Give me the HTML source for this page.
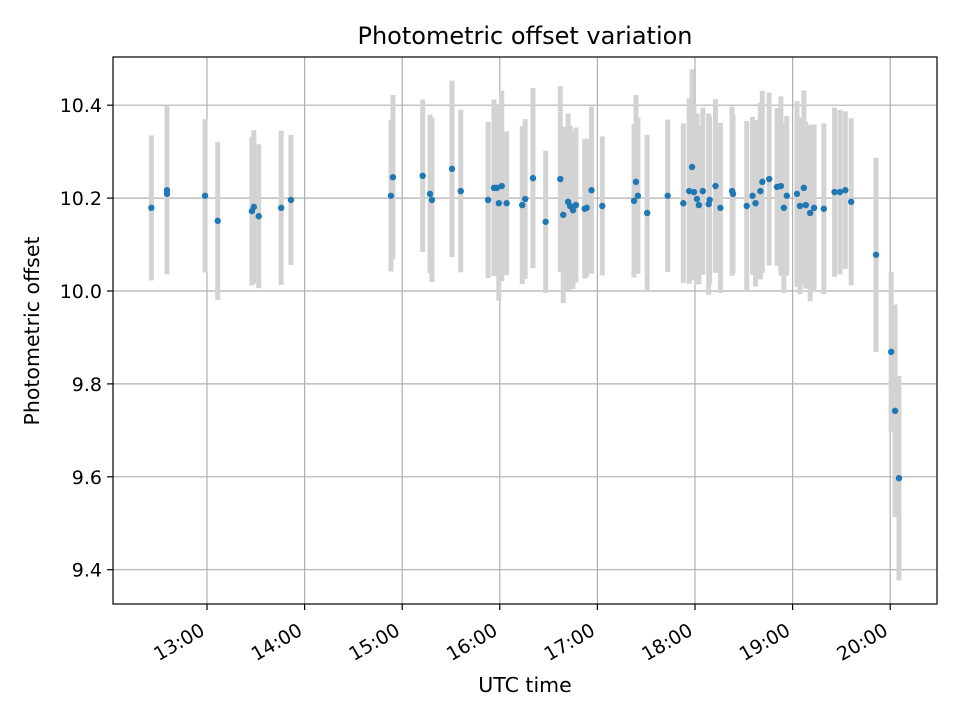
<!DOCTYPE html>
<html><head><meta charset="utf-8"><style>body{margin:0;background:#fff}svg{display:block;font-family:"DejaVu Sans","Liberation Sans",sans-serif}</style></head>
<body>
<svg id="chart" width="960" height="720" viewBox="0 0 960 720" xmlns="http://www.w3.org/2000/svg">
<rect width="960" height="720" fill="#fff"/>
<text x="525" y="44" font-size="24" text-anchor="middle">Photometric offset variation</text>
<g id="grid"></g><g id="bars"></g><g id="dots"></g><g id="axes"></g>
<rect x="113" y="57" width="824" height="547" fill="none" stroke="#000" stroke-width="1.2"/>
<text x="525" y="692" font-size="20.5" text-anchor="middle">UTC time</text>
<text transform="translate(39,331) rotate(-90)" font-size="20.5" text-anchor="middle">Photometric offset</text>
</svg>
<script>
const times=[12.43,12.59,12.59,12.98,13.11,13.46,13.48,13.53,13.76,13.86,14.885,14.905,15.21,15.285,15.305,15.51,15.60,15.88,15.94,15.97,15.99,16.02,16.07,16.23,16.26,16.34,16.47,16.62,16.65,16.70,16.72,16.75,16.78,16.87,16.89,16.94,17.05,17.375,17.395,17.415,17.51,17.72,17.88,17.94,17.97,17.99,18.02,18.04,18.08,18.14,18.15,18.21,18.26,18.38,18.39,18.53,18.59,18.62,18.67,18.69,18.76,18.84,18.88,18.91,18.94,19.045,19.075,19.115,19.135,19.18,19.22,19.32,19.43,19.485,19.54,19.60,19.855,20.01,20.05,20.09];
const offsets=[10.179,10.217,10.209,10.205,10.151,10.172,10.181,10.161,10.179,10.196,10.205,10.245,10.248,10.209,10.196,10.263,10.215,10.196,10.222,10.222,10.189,10.226,10.189,10.185,10.198,10.243,10.149,10.241,10.164,10.192,10.183,10.174,10.185,10.177,10.179,10.217,10.183,10.194,10.235,10.205,10.168,10.205,10.189,10.215,10.267,10.213,10.198,10.185,10.215,10.187,10.196,10.226,10.179,10.215,10.209,10.183,10.205,10.189,10.215,10.235,10.241,10.224,10.226,10.179,10.205,10.209,10.183,10.222,10.185,10.168,10.179,10.177,10.213,10.213,10.217,10.192,10.078,9.869,9.742,9.597];
const errors=[0.156,0.181,0.17,0.165,0.17,0.16,0.165,0.155,0.166,0.14,0.163,0.177,0.164,0.171,0.177,0.19,0.175,0.168,0.19,0.17,0.21,0.205,0.155,0.17,0.172,0.194,0.153,0.2,0.19,0.19,0.173,0.17,0.167,0.15,0.149,0.18,0.15,0.165,0.187,0.168,0.168,0.164,0.172,0.2,0.21,0.19,0.184,0.17,0.18,0.195,0.18,0.187,0.183,0.182,0.17,0.183,0.17,0.179,0.19,0.196,0.186,0.17,0.193,0.183,0.172,0.2,0.19,0.21,0.18,0.19,0.18,0.184,0.182,0.177,0.17,0.18,0.209,0.172,0.229,0.22];
const xTicks=[13,14,15,16,17,18,19,20];
const xTickLabels=["13:00","14:00","15:00","16:00","17:00","18:00","19:00","20:00"];
const yTicks=[9.4,9.6,9.8,10.0,10.2,10.4];
const yTickLabels=["9.4","9.6","9.8","10.0","10.2","10.4"];
const NS="http://www.w3.org/2000/svg";
function xs(h){return 207+(h-13)*97.6;}
function ys(v){return 291-(v-10)*464.5;}
function mk(tag,attrs,parent){const e=document.createElementNS(NS,tag);for(const k in attrs)e.setAttribute(k,attrs[k]);document.getElementById(parent).appendChild(e);return e;}
xTicks.forEach((t,i)=>{const x=xs(t);
 const g=mk('line',{x1:x,x2:x,y1:57,y2:604,stroke:'#b0b0b0','stroke-width':1.2},'grid');
 
 
 const tk=mk('line',{x1:x,x2:x,y1:604,y2:610,stroke:'#000','stroke-width':1.2},'axes');
 
 
 const tx=mk('text',{x:0,y:0,'font-size':19,'text-anchor':'end',transform:`translate(${x-1},${634}) rotate(-30)`},'axes');
 tx.textContent=xTickLabels[i];
 
 
});
yTicks.forEach((t,i)=>{const y=ys(t);
 const g=mk('line',{x1:113,x2:937,y1:y,y2:y,stroke:'#b0b0b0','stroke-width':1.2},'grid');
 
 
 const tk=mk('line',{x1:107,x2:113,y1:y,y2:y,stroke:'#000','stroke-width':1.2},'axes');
 
 
 const tx=mk('text',{x:102,y:y+7,'font-size':19,'text-anchor':'end'},'axes');
 tx.textContent=yTickLabels[i];
 
 
});
times.forEach((t,i)=>{const x=xs(t);
 const b=mk('line',{x1:x,x2:x,y1:ys(offsets[i]+errors[i]),y2:ys(offsets[i]-errors[i]),stroke:'#d3d3d3','stroke-width':5},'bars');
 
 
 const d=mk('circle',{cx:x,cy:ys(offsets[i]),r:3.2,fill:'#1f77b4'},'dots');
 
 
});
</script>
</body></html>
